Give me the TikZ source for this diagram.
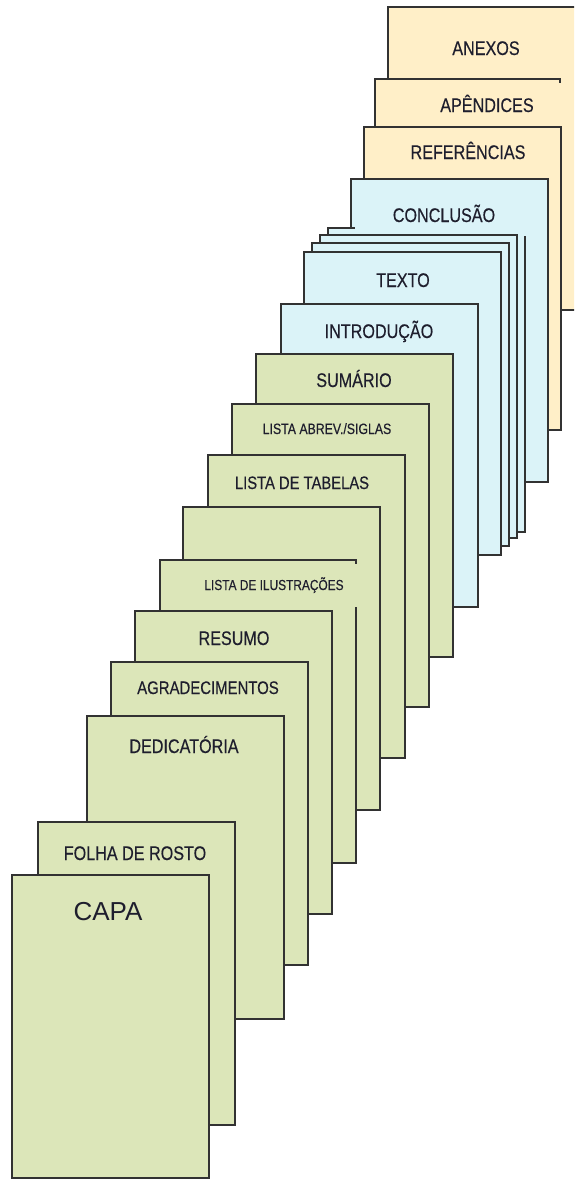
\documentclass[tikz,border=0pt]{standalone}
\usepackage{fontspec}
\newfontfamily\narrowsans[FakeStretch=0.82,FakeBold=0.35]{Liberation Sans}
\newfontfamily\plainsans{Liberation Sans}
\definecolor{pgreen}{RGB}{220,230,185}
\definecolor{pblue}{RGB}{219,243,248}
\definecolor{porange}{RGB}{255,239,200}
\definecolor{edgegray}{RGB}{50,50,50}
\definecolor{ink}{RGB}{30,30,45}
\tikzset{
  sheet/.style={rectangle, draw=edgegray, line width=1.5pt, minimum width=197pt,
    minimum height=303pt, inner sep=0pt, outer sep=0pt, anchor=north west},
  sheetfill/.style={sheet, draw=none},
  edgeline/.style={draw=edgegray, line width=1.5pt},
  title/.style={font=\narrowsans\fontsize{19.7}{20}\selectfont, text=ink, inner sep=0pt, anchor=base},
  greensheet/.style={sheet, fill=pgreen},
  bluesheet/.style={sheet, fill=pblue},
  orangesheet/.style={sheet, fill=porange},
}
\begin{document}
\begin{tikzpicture}[x=1pt,y=-1pt]
\useasboundingbox (0,0) rectangle (574,1179);
\clip (0,0) rectangle (574,1179);
% --- post-textual (orange)
\node[orangesheet] (anexos) at (388,7) {};
\node[title] (lanexos) at (486,55) {ANEXOS};
\node[sheetfill, fill=porange, minimum width=185pt] (apend) at (375,79) {};
\draw[edgeline] (apend.south west) -- (apend.north west) -- (apend.north east) -- ++(0,4);
\node[title] (lapend) at (487,112) {APÊNDICES};
\node[orangesheet, minimum width=197pt] (refer) at (364,127) {};
\node[title] (lrefer) at (468,159) {REFERÊNCIAS};
% --- textual (blue)
\node[bluesheet] (concl) at (351,179) {};
\node[title] (lconcl) at (444,222) {CONCLUSÃO};
\node[sheetfill, fill=pblue, minimum height=304pt] (p1) at (328,228) {};
\draw[edgeline] ([yshift=-8pt]p1.north west) -- (p1.north west) -- ([xshift=27pt]p1.north west);
\draw[edgeline] ([yshift=-8pt]p1.north east) -- (p1.south east) -- (p1.south west);
\node[bluesheet] (p2) at (320,235) {};
\node[bluesheet] (p3) at (312,243) {};
\node[bluesheet] (texto) at (304,252) {};
\node[title] (ltexto) at (403,287) {TEXTO};
\node[bluesheet] (intro) at (281,304) {};
\node[title] (lintro) at (379,338) {INTRODUÇÃO};
% --- pre-textual (green)
\node[greensheet] (sumario) at (256,354) {};
\node[title] (lsumario) at (354,387) {SUMÁRIO};
\node[greensheet] (abrev) at (232,404) {};
\node[title, font=\narrowsans\fontsize{15}{16}\selectfont] (labrev) at (327,434) {LISTA ABREV./SIGLAS};
\node[greensheet] (tabelas) at (208,455) {};
\node[title, font=\narrowsans\fontsize{18}{19}\selectfont] (ltabelas) at (302,489) {LISTA DE TABELAS};
\node[greensheet] (blank) at (183,507) {};
\node[sheetfill, fill=pgreen, minimum width=196pt] (ilus) at (160,560) {};
\draw[edgeline] (ilus.south west) -- (ilus.north west) -- (ilus.north east) -- ++(0,4);
\draw[edgeline] ([yshift=-47pt]ilus.north east) -- (ilus.south east) -- (ilus.south west);
\node[title, font=\narrowsans\fontsize{14.5}{15}\selectfont] (lilus) at (274,590) {LISTA DE ILUSTRAÇÕES};
\node[greensheet] (resumo) at (135,611) {};
\node[title] (lresumo) at (234,645) {RESUMO};
\node[greensheet] (agrad) at (111,662) {};
\node[title, font=\narrowsans\fontsize{18.2}{19}\selectfont] (lagrad) at (208,694) {AGRADECIMENTOS};
\node[greensheet] (dedic) at (87,716) {};
\node[title] (ldedic) at (184,753) {DEDICATÓRIA};
\node[greensheet] (folha) at (38,822) {};
\node[title] (lfolha) at (135,860) {FOLHA DE ROSTO};
\node[greensheet] (capa) at (12,875) {};
\node[title, font=\plainsans\fontsize{26}{27}\selectfont] (lcapa) at (108,920) {CAPA};
\end{tikzpicture}
\end{document}
